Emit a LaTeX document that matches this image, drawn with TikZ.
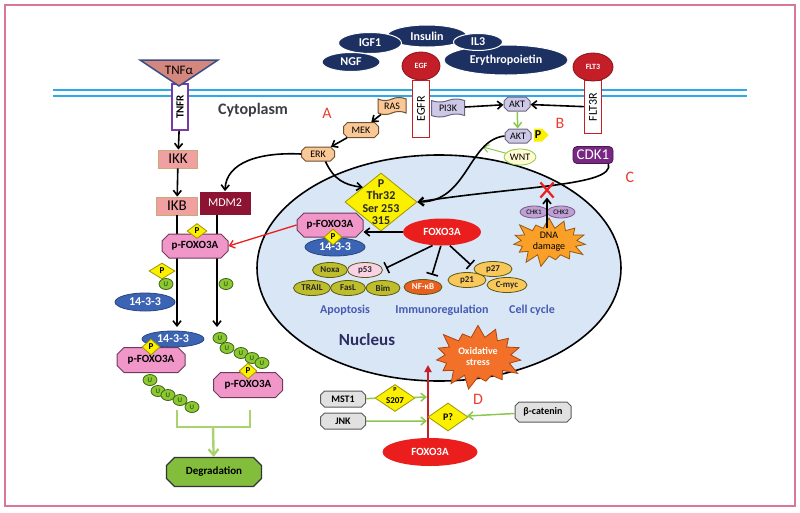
\documentclass[tikz,border=0pt]{standalone}
\usepackage{fontspec}
\setmainfont{Carlito}
\usetikzlibrary{shapes.geometric,shapes.misc,shapes.symbols,arrows.meta}
\newcommand{\fsz}[2]{\fontsize{#1}{#2}\selectfont}
\definecolor{cframe}{RGB}{214,120,150}
\definecolor{cmemb}{RGB}{45,170,230}
\definecolor{cligand}{RGB}{28,48,98}
\definecolor{crcpt}{RGB}{196,30,40}
\definecolor{ctnf}{RGB}{212,135,125}
\definecolor{ctnfblue}{RGB}{55,75,135}
\definecolor{ctnfr}{RGB}{120,60,170}
\definecolor{cpeach}{RGB}{250,200,150}
\definecolor{cpeachdk}{RGB}{110,80,50}
\definecolor{clav}{RGB}{205,200,230}
\definecolor{clavdk}{RGB}{110,100,130}
\definecolor{csalmon}{RGB}{240,160,160}
\definecolor{csalmondk}{RGB}{200,170,120}
\definecolor{cmaroon}{RGB}{140,20,50}
\definecolor{cfox}{RGB}{240,150,200}
\definecolor{cfoxdk}{RGB}{110,60,90}
\definecolor{cblue}{RGB}{60,100,180}
\definecolor{cpyel}{RGB}{250,240,0}
\definecolor{cpyeldk}{RGB}{160,150,0}
\definecolor{cugreen}{RGB}{140,200,50}
\definecolor{cugreendk}{RGB}{60,100,20}
\definecolor{cnuc}{RGB}{216,230,245}
\definecolor{colive}{RGB}{190,190,45}
\definecolor{colivedk}{RGB}{90,90,20}
\definecolor{cp53}{RGB}{250,210,230}
\definecolor{cnfkb}{RGB}{232,95,30}
\definecolor{ccyc}{RGB}{250,200,90}
\definecolor{cchk}{RGB}{190,160,210}
\definecolor{cchkdk}{RGB}{120,90,140}
\definecolor{cdna}{RGB}{250,160,40}
\definecolor{cdnadk}{RGB}{150,90,20}
\definecolor{cox}{RGB}{242,112,40}
\definecolor{coxdk}{RGB}{170,70,20}
\definecolor{clbl}{RGB}{70,90,180}
\definecolor{cnuctext}{RGB}{45,45,100}
\definecolor{cgray}{RGB}{225,225,225}
\definecolor{cgraydk}{RGB}{90,90,90}
\definecolor{cdegr}{RGB}{130,190,60}
\definecolor{cbr}{RGB}{170,210,110}
\definecolor{cgarrow}{RGB}{140,200,80}
\definecolor{ccdk}{RGB}{120,40,130}
\definecolor{cletter}{RGB}{235,60,50}
\definecolor{cfoxred}{RGB}{235,30,30}
\definecolor{cdarkred}{RGB}{200,30,40}
\definecolor{cwnt}{RGB}{255,250,210}
\definecolor{ccyto}{RGB}{60,60,70}
\begin{document}
\begin{tikzpicture}[x=1pt, y=-1pt, thick, >={Straight Barb[length=5pt,width=8pt]},
  lig/.style={ellipse, fill=cligand, draw=white, line width=1pt, text=white, font=\bfseries\fsz{12}{12}, inner sep=0pt},
  rcpt/.style={rectangle, fill=white, line width=1.5pt, inner sep=0pt, font=\fsz{12}{12}},
  head/.style={ellipse, fill=crcpt, draw=crcpt!70!black, text=white, font=\bfseries\fsz{8}{9}, inner sep=0pt},
  kin/.style={chamfered rectangle, chamfered rectangle xsep=2pt, chamfered rectangle ysep=2pt, line width=1pt, inner sep=0pt, font=\fsz{10}{10}},
  boxr/.style={rectangle, inner sep=0pt, font=\fsz{15}{15}},
  fox/.style={chamfered rectangle, chamfered rectangle xsep=3.5pt, chamfered rectangle ysep=3.5pt, fill=cfox, draw=cfoxdk, line width=1pt, inner sep=0pt, font=\bfseries\fsz{11}{12}, minimum width=66, minimum height=24},
  pdia/.style={diamond, fill=cpyel, draw=cpyeldk, line width=0.8pt, inner sep=0pt, font=\bfseries\fsz{9}{9}},
  ub/.style={ellipse, fill=cugreen, draw=cugreendk, line width=0.8pt, inner sep=0pt, minimum width=14, minimum height=11, text=cugreendk, font=\bfseries\fsz{7}{7}},
  b1433/.style={ellipse, fill=cblue, draw=cblue!70!black, text=white, font=\bfseries\fsz{12}{12}, inner sep=0pt},
  gene/.style={ellipse, draw=colivedk, line width=0.8pt, inner sep=0pt, minimum height=15, text=black!85, font=\bfseries\fsz{9}{9}},
  lbl/.style={font=\bfseries\fsz{12}{12}, text=clbl},
  lett/.style={font=\fsz{16}{16}, text=cletter},
  arr/.style={->, line width=1.6pt},
  gar/.style={->, draw=cgarrow, line width=1.5pt},
  inh/.style={-{Bar[width=12pt]}, line width=1.6pt},
  star/.style={starburst, starburst points=15, starburst point height=10pt, random starburst=60, inner sep=0pt, align=center, line width=0.8pt}]
\pgfmathsetseed{7}
\useasboundingbox (0,0) rectangle (800,512);
\draw[cframe, line width=1.2pt] (5,5) rectangle (795,506);
% membrane
\draw[cmemb, line width=2pt] (53,90) -- (747,90);
\draw[cmemb, line width=2pt] (53,96) -- (747,96);
% ligands
\node[lig, minimum width=80, minimum height=22] (insulin) at (427,36) {Insulin};
\node[lig, minimum width=63, minimum height=21] (igf1) at (370,43) {IGF1};
\node[lig, minimum width=58, minimum height=19] (ngf) at (351,62) {NGF};
\node[lig, minimum width=124, minimum height=30] (epo) at (506,60) {Erythropoietin};
\node[lig, minimum width=49, minimum height=17] (il3) at (478,42) {IL3};
% receptors
\node[rcpt, draw=crcpt, rotate=90, minimum width=57, minimum height=17] (egfr) at (421,109) {EGFR};
\node[head, minimum width=38, minimum height=28] (egf) at (421,66) {EGF};
\node[rcpt, draw=crcpt, rotate=90, minimum width=53, minimum height=17] (flt3r) at (593,107) {FLT3R};
\node[head, minimum width=40, minimum height=28] (flt3) at (593,67) {FLT3};
\node[rcpt, draw=ctnfr, rotate=90, minimum width=46, minimum height=16, font=\bfseries\fsz{11}{11}] (tnfr) at (180,107) {TNFR};
\draw[fill=ctnf, draw=ctnfblue, line width=1.5pt] (140,60) -- (218,60) -- (179,86) -- cycle;
\node[font=\fsz{13}{13}] (tnfa) at (179,70) {TNFα};
% nucleus
\node[ellipse, fill=cnuc, draw=black, line width=1.6pt, minimum width=364, minimum height=226] (nucleus) at (439,268) {};
\node[font=\bfseries\fsz{16}{16}, text=ccyto] (cyto) at (253,110) {Cytoplasm};
\node[lett] (la) at (327,113) {A};
\node[lett] (lb) at (560,123) {B};
\node[lett] (lc) at (630,177) {C};
\node[lett] (ld) at (478,399) {D};
% cytoplasmic kinases
\node[tape, fill=cpeach, draw=cpeachdk, line width=1pt, minimum width=28, minimum height=17, tape bend height=3pt, inner sep=1pt, font=\fsz{10}{10}] (ras) at (392,106) {RAS};
\node[tape, fill=clav, draw=clavdk, line width=1pt, minimum width=33, minimum height=18, tape bend height=3pt, inner sep=1pt, font=\fsz{10}{10}] (pik) at (448,108) {PI3K};
\node[kin, fill=cpeach, draw=cpeachdk, minimum width=35, minimum height=15] (mek) at (361,130) {MEK};
\node[kin, fill=cpeach, draw=cpeachdk, minimum width=33, minimum height=14] (erk) at (318,154) {ERK};
\node[kin, fill=clav, draw=clavdk, minimum width=26, minimum height=14] (akt) at (517,104) {AKT};
\node[kin, fill=clav, draw=clavdk, minimum width=26, minimum height=14] (akt2) at (518,136) {AKT};
\node[signal, signal to=east, fill=cpyel, inner sep=1pt, minimum height=13, font=\bfseries\fsz{12}{12}] (aktp) at (538,135) {P};
\node[ellipse, fill=cwnt, draw=cgarrow, line width=0.8pt, minimum width=32, minimum height=16, inner sep=0pt, font=\fsz{10}{10}] (wnt) at (520,157) {WNT};
\node[rectangle, rounded corners=4pt, fill=ccdk, draw=ccdk!60!black, minimum width=40, minimum height=17, inner sep=1pt, text=white, font=\fsz{15}{15}] (cdk1) at (593,155) {CDK1};
\node[boxr, fill=csalmon, draw=csalmondk, minimum width=39, minimum height=18] (ikk) at (178,159) {IKK};
\node[boxr, fill=csalmon, draw=csalmondk, minimum width=41, minimum height=18] (ikb) at (177,206) {IKB};
\node[boxr, fill=cmaroon, text=white, minimum width=51, minimum height=23, font=\fsz{12}{12}] (mdm2) at (225,203) {MDM2};
\draw[arr] (tnfr) -- (ikk);
\draw[arr] (ikk) -- (ikb);
\draw[arr] (ras) -- (mek);
\draw[arr] (mek) -- (erk);
\draw[arr] (pik) -- (akt);
\draw[arr] (flt3r) -- (akt);
\draw[gar] (akt) -- (akt2);
\coordinate (wntend) at (483,147);
\draw[gar, line width=1pt] (wnt) -- (wntend);
% phospho sites
\node[pdia, minimum width=72, minimum height=58] (thr) at (381,202) {};
\node[font=\bfseries\fsz{12}{12.5}, align=center, text=black!85] (thrtext) at (thr) {P\\Thr32\\Ser 253\\315};
\draw[arr] (erk.west) .. controls (260,152) and (226,162) .. (mdm2.north);
\draw[arr] (erk.-45) .. controls (334,180) and (345,185) .. (thr.north west);
\draw[arr] (akt2.west) .. controls (468,140) and (468,202) .. (thr.east);
\draw[arr] (cdk1.-30) .. controls (615,186) and (520,186) .. (thr.east);
\node[cross out, draw=cfoxred, line width=2.2pt, minimum width=11, minimum height=13, inner sep=0pt] (xmark) at (547,190) {};
% nucleus content
\node[b1433, minimum width=60, minimum height=18] (n1433) at (335,247) {14-3-3};
\node[fox] (pfoxn) at (330,225) {p-FOXO3A};
\node[pdia, minimum width=18, minimum height=16] (pn) at (333,237) {P};
\node[ellipse, fill=cfoxred, text=white, minimum width=78, minimum height=27, inner sep=0pt, font=\bfseries\fsz{11}{11}] (foxn) at (442,232) {FOXO3A};
\draw[arr] (foxn.west) -- (pfoxn.east |- foxn.west);
\node[gene, fill=colive, minimum width=35] (noxa) at (330,270) {Noxa};
\node[gene, fill=cp53, minimum width=35] (p53) at (365,270) {p53};
\node[gene, fill=colive, minimum width=37] (trail) at (312,288) {TRAIL};
\node[gene, fill=colive, minimum width=35] (fasl) at (348,288) {FasL};
\node[gene, fill=colive, minimum width=34] (bim) at (383,288) {Bim};
\node[gene, fill=cnfkb, text=white, minimum width=38] (nfkb) at (423,287) {NF-κB};
\node[gene, fill=ccyc, minimum width=38] (p27) at (493,269) {p27};
\node[gene, fill=ccyc, minimum width=38] (p21) at (467,280) {p21};
\node[gene, fill=ccyc, minimum width=40] (cmyc) at (507,285) {C-myc};
\coordinate (apo) at (386,268);
\coordinate (imm) at (432,275);
\coordinate (cyc) at (471,265);
\draw[inh] (foxn.235) -- (apo);
\draw[inh] (foxn.265) -- (imm);
\draw[inh] (foxn.300) -- (cyc);
\node[ellipse, fill=cchk, draw=cchkdk, line width=0.8pt, minimum width=28, minimum height=12, inner sep=0pt, font=\fsz{7}{7}] (chk1) at (534,212) {CHK1};
\node[ellipse, fill=cchk, draw=cchkdk, line width=0.8pt, minimum width=28, minimum height=12, inner sep=0pt, font=\fsz{7}{7}] (chk2) at (561,212) {CHK2};
\node[star, fill=cdna, draw=cdnadk, minimum width=80pt, minimum height=52pt, starburst point height=12pt, font=\fsz{10}{11}] (dna) at (549,242) {DNA\\damage};
\coordinate (dnaup) at (547,228);
\draw[arr] (dnaup) -- (xmark);
\node[lbl] (apoptosis) at (345,310) {Apoptosis};
\node[lbl] (immuno) at (442,310) {Immunoregulation};
\node[lbl] (cellcycle) at (532,310) {Cell cycle};
\node[font=\bfseries\fsz{17}{17}, text=cnuctext] (nuctext) at (367,340) {Nucleus};
% oxidative stress
\node[star, fill=cox, draw=coxdk, text=white, minimum width=94pt, minimum height=68pt, starburst point height=14pt, font=\bfseries\fsz{10}{11}] (oxid) at (478,357) {Oxidative\\stress};
\node[ellipse, fill=cfoxred, text=white, minimum width=95, minimum height=28, inner sep=0pt, font=\bfseries\fsz{11}{11}] (foxc) at (430,452) {FOXO3A};
\coordinate (oxtip) at (428,365);
\draw[-{Triangle[length=7pt,width=7pt]}, draw=cdarkred, fill=cdarkred, line width=2.2pt] (foxc.north -| oxtip) -- (oxtip);
\node[kin, fill=cgray, draw=cgraydk, minimum width=45, minimum height=16, font=\bfseries\fsz{10}{10}] (mst1) at (343,399) {MST1};
\node[kin, fill=cgray, draw=cgraydk, minimum width=45, minimum height=16, font=\bfseries\fsz{10}{10}] (jnk) at (343,421) {JNK};
\node[kin, fill=cgray, draw=cgraydk, minimum width=56, minimum height=20, font=\bfseries\fsz{10}{10}] (bcat) at (543,412) {β-catenin};
\node[pdia, minimum width=40, minimum height=27] (s207) at (395,398) {};
\node[font=\bfseries\fsz{6}{6}] (s207p) at (395,390) {P};
\node[font=\bfseries\fsz{9}{9}] (s207t) at (395,401) {S207};
\node[pdia, minimum width=40, minimum height=28, font=\bfseries\fsz{10}{10}] (pq) at (448,417) {P?};
\coordinate (mstend) at (427,397);
\coordinate (jnkend) at (427,421);
\draw[gar, -] (mst1) -- (s207);
\draw[gar] (s207) -- (mstend);
\draw[gar] (jnk) -- (jnkend);
\draw[gar] (bcat) -- (pq);
% cytoplasmic FOXO3A
\coordinate (ikbend) at (177,327);
\coordinate (mdmend) at (217,327);
\draw[arr] (ikb) -- (ikbend);
\draw[arr] (mdm2.south -| mdmend) -- (mdmend);
\node[fox] (pfoxc) at (195,246) {p-FOXO3A};
\node[pdia, minimum width=20, minimum height=15] (pc) at (197,231) {P};
\draw[->, draw=cfoxred, line width=1.3pt] (pfoxn.west) -- (pfoxc.east);
\node[pdia, minimum width=26, minimum height=16] (pl) at (162,271) {P};
\node[ub] (ul) at (166,284) {U};
\node[ub] (ur) at (226,284) {U};
\node[b1433, minimum width=60, minimum height=18] (c1433) at (145,302) {14-3-3};
\node[b1433, minimum width=62, minimum height=16] (b1433) at (173,339) {14-3-3};
\node[fox, minimum width=68, minimum height=25] (pfoxb1) at (151,360) {p-FOXO3A};
\node[pdia, minimum width=18, minimum height=16] (pb1) at (151,347) {P};
\foreach \ux/\uy [count=\i] in {150/380, 158/391, 168/395, 180/400, 192/407}
  \node[ub] (ua\i) at (\ux,\uy) {U};
\foreach \ux/\uy [count=\i] in {220/338, 227/348, 241/353, 252/358, 262/363}
  \node[ub] (ub\i) at (\ux,\uy) {U};
\node[fox, minimum width=69, minimum height=25] (pfoxb2) at (248,385) {p-FOXO3A};
\node[pdia, minimum width=18, minimum height=16] (pb2) at (248,371) {P};
% degradation
\coordinate (brl) at (177,410);
\coordinate (brr) at (250,410);
\coordinate (brm) at (213,427);
\draw[cbr, line width=2.4pt] (brl) |- (brm) -| (brr);
\node[kin, fill=cdegr, draw=black!80, line width=1.2pt, chamfered rectangle xsep=4pt, chamfered rectangle ysep=4pt, minimum width=95, minimum height=29, font=\bfseries\fsz{11}{11}] (degr) at (214,472) {Degradation};
\draw[-{Straight Barb[length=6pt,width=10pt]}, draw=cbr, line width=2.4pt] (brm) -- (degr);
\end{tikzpicture}
\end{document}
